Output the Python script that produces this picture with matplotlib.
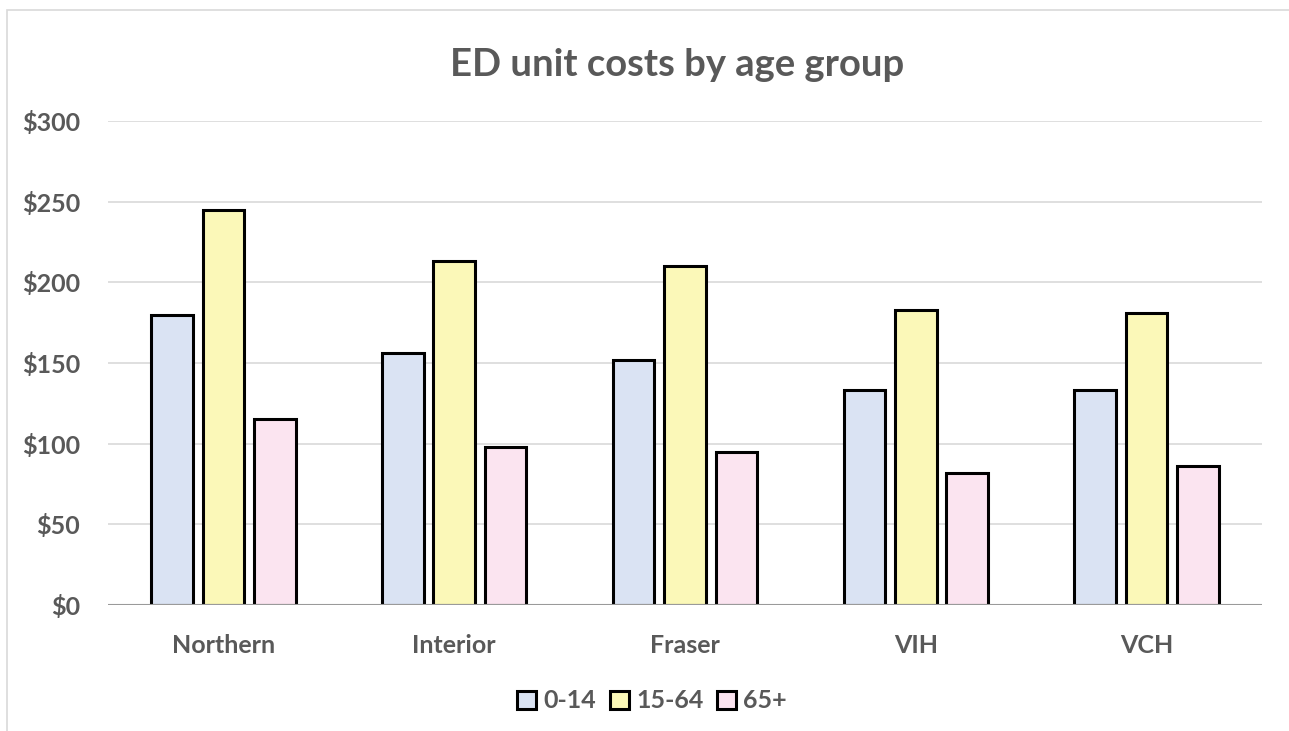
import matplotlib
matplotlib.use("Agg")
import matplotlib.pyplot as plt
import numpy as np
from matplotlib.patches import Rectangle, Patch

categories = ["Northern", "Interior", "Fraser", "VIH", "VCH"]
series_names = ["0-14", "15-64", "65+"]
age_0_14 = [180, 156, 152, 133, 133]
age_15_64 = [245, 213, 210, 183, 181]
age_65_plus = [115, 98, 95, 82, 86]
yticks = [0, 50, 100, 150, 200, 250, 300]
ytick_labels = ["$0", "$50", "$100", "$150", "$200", "$250", "$300"]

colors = ["#dae3f3", "#fbf8b8", "#fbe4f0"]
text_color = "#595959"
plt.rcParams['font.family'] = ['Lato', 'DejaVu Sans']

fig = plt.figure(figsize=(12.89, 7.31), dpi=100)
# outer border
fig.patches.append(Rectangle((7/1289, -0.05), 1.1, 1 - 10/731 + 0.05, transform=fig.transFigure,
                             fill=False, edgecolor="#d9d9d9", linewidth=1.2))
ax = fig.add_axes([108/1289, 1 - 605/731, (1262 - 108)/1289, (605 - 121)/731])

x = np.arange(len(categories))
width = 0.18
offset = 0.223
for i, (vals, c, name) in enumerate(zip([age_0_14, age_15_64, age_65_plus], colors, series_names)):
    ax.bar(x + (i - 1) * offset, vals, width, color=c, edgecolor="black", linewidth=2.2,
           label=name, zorder=3)

ax.set_xlim(-0.5, len(categories) - 0.5)
ax.set_ylim(0, 300)
ax.set_yticks(yticks)
ax.set_yticklabels(ytick_labels)
ax.yaxis.grid(True, color="#d9d9d9", linewidth=1.2, zorder=0)
ax.set_axisbelow(True)
ax.axhline(0, color="#9a9a9a", linewidth=1.5, zorder=4)
for s in ax.spines.values():
    s.set_visible(False)
ax.tick_params(axis="both", length=0, labelsize=18, labelcolor=text_color)
ax.tick_params(axis="y", pad=20)
ax.tick_params(axis="x", pad=21)
ax.set_xticks(x)
ax.set_xticklabels(categories)
for lab in ax.get_xticklabels() + ax.get_yticklabels():
    lab.set_fontweight("bold")

fig.text(677/1289, 1 - 65/731, "ED unit costs by age group", ha="center", va="center",
         fontsize=27.5, fontweight="bold", color=text_color)

handles = [Patch(facecolor=c, edgecolor="black", linewidth=2.2) for c in colors]
leg = fig.legend(handles, series_names, loc="center", bbox_to_anchor=(652/1289, 1 - 701/731),
                 ncol=3, frameon=False, fontsize=18, handlelength=0.75, handleheight=0.75,
                 handletextpad=0.3, columnspacing=0.55)
for t in leg.get_texts():
    t.set_color(text_color)
    t.set_fontweight("bold")

fig.savefig("out.png", dpi=100)
